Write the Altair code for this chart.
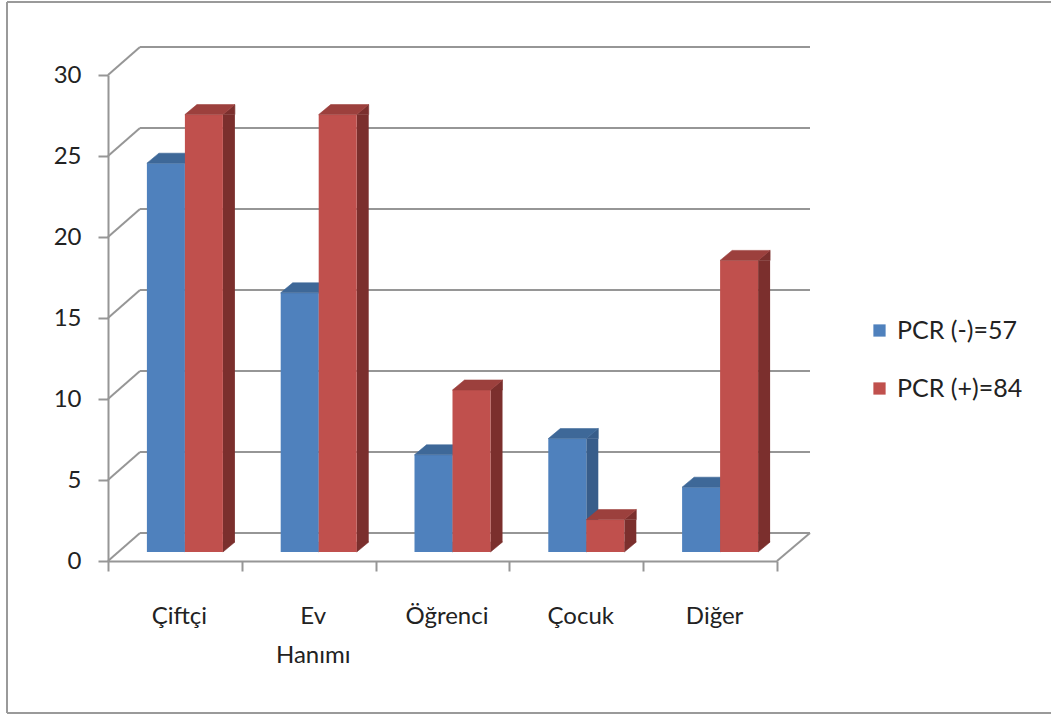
import altair as alt
import pandas as pd

categories = ["Çiftçi", "Ev Hanımı", "Öğrenci", "Çocuk", "Diğer"]
pcr_neg = [24, 16, 6, 7, 4]
pcr_pos = [27, 27, 10, 2, 18]
series = ["PCR (-)=57", "PCR (+)=84"]
y_ticks = [0, 5, 10, 15, 20, 25, 30]

W, H = 669, 486
FONT = "Lato, sans-serif"
GRID = "#969696"
TXT = "#222222"

BLUE, BLUE_TOP, BLUE_SIDE = "#4F81BD", "#3E6898", "#385D8A"
RED, RED_TOP, RED_SIDE = "#C0504D", "#9C403D", "#7B2F2D"

blue_df = pd.DataFrame({"cat": categories, "val": pcr_neg, "series": series[0]})
red_df = pd.DataFrame({"cat": categories, "val": pcr_pos, "series": series[1]})
ticks_df = pd.DataFrame({"val": y_ticks})
one_df = pd.DataFrame({"val": [0]})

x_scale = alt.Scale(type="band", domain=categories, paddingInner=0, paddingOuter=0)
y_scale = alt.Scale(domain=[0, 30], nice=False, zero=True)
color_scale = alt.Scale(domain=series, range=[BLUE, RED])

x_axis = alt.Axis(
    title=None, tickBand="extent", domainColor=GRID, domainWidth=2,
    tickColor=GRID, tickWidth=2, tickSize=10, labelFontSize=24,
    labelFont=FONT, labelColor=TXT, labelPadding=33, labelAngle=0,
    labelExpr="split(datum.label, ' ')", labelLineHeight=39, labelOffset=4)
y_axis = alt.Axis(
    title=None, values=y_ticks, grid=False, domainColor=GRID, domainWidth=2,
    tickColor=GRID, tickWidth=2, tickSize=10, labelFontSize=24,
    labelFont=FONT, labelColor=TXT, labelPadding=17)

X = alt.X("cat:N", scale=x_scale, sort=categories, axis=x_axis)
Y = alt.Y("val:Q", scale=y_scale, axis=y_axis)

# frame around the picture
frame = alt.layer(
    alt.Chart(one_df).mark_rule(color="#9a9a9a", strokeWidth=2).encode(
        x=alt.value(-101), x2=alt.value(943), y=alt.value(-73), y2=alt.value(-73)),
    alt.Chart(one_df).mark_rule(color="#9a9a9a", strokeWidth=2).encode(
        x=alt.value(-101), x2=alt.value(-101), y=alt.value(-73), y2=alt.value(638)),
    alt.Chart(one_df).mark_rule(color="#9a9a9a", strokeWidth=2).encode(
        x=alt.value(-101), x2=alt.value(943), y=alt.value(638), y2=alt.value(638)),
)

# back wall gridlines
grid = alt.Chart(ticks_df).mark_rule(
    color=GRID, strokeWidth=2, xOffset=32, x2Offset=33, yOffset=-28
).encode(y=Y, x=alt.value(0), x2=alt.value(W))

# side wall diagonals
diag = alt.Chart(ticks_df).mark_rule(
    color=GRID, strokeWidth=2, x2Offset=32, y2Offset=-28
).encode(x=alt.value(0), x2=alt.value(0), y=Y, y2="val:Q")

floor_right = alt.Chart(one_df).mark_rule(
    color=GRID, strokeWidth=2, x2Offset=33, y2Offset=-28
).encode(x=alt.value(W), x2=alt.value(W), y=Y, y2="val:Q")


def bar_layers(df, front_off, top_col, side_col):
    lx = front_off - 19  # left edge offset of front face from band centre
    rx = front_off + 19  # right edge offset

    side = alt.Chart(df).mark_bar(
        width=12, xOffset=rx + 6, yOffset=-9, y2Offset=-19, color=side_col
    ).encode(x=X, y=Y, y2=alt.datum(0))

    side_top = alt.Chart(df).mark_point(
        shape=f"M {rx} -9 L {rx+12} -19 L {rx+12} -9 Z", size=4, filled=True,
        opacity=1, color=side_col, strokeWidth=0.6, stroke=side_col
    ).encode(x=X, y=Y)

    side_bottom = alt.Chart(df).mark_point(
        shape=f"M {rx} -19 L {rx+12} -19 L {rx} -9 Z", size=4, filled=True,
        opacity=1, color=side_col, strokeWidth=0.6, stroke=side_col
    ).encode(x=X, y=alt.Y("zero:Q", scale=y_scale, axis=y_axis)).transform_calculate(zero="0")

    front = alt.Chart(df).mark_bar(
        width=38, xOffset=front_off, yOffset=-9, y2Offset=-9
    ).encode(
        x=X, y=Y, y2=alt.datum(0),
        color=alt.Color("series:N", scale=color_scale, legend=alt.Legend(
            title=None, orient="none", legendX=759, legendY=243, direction="vertical",
            symbolType="square", symbolSize=150, symbolStrokeWidth=0,
            labelFontSize=25, labelFont=FONT, labelColor=TXT, labelOffset=5,
            rowPadding=32, padding=0)),
    )

    top = alt.Chart(df).mark_point(
        shape=f"M {lx} -9 L {rx} -9 L {rx+12} -19 L {lx+12} -19 Z", size=4,
        filled=True, opacity=1, color=top_col, strokeWidth=0.6, stroke=top_col
    ).encode(x=X, y=Y)

    return [side, side_top, side_bottom, front, top]


layers = [frame, grid, diag, floor_right]
layers += bar_layers(blue_df, -9, BLUE_TOP, BLUE_SIDE)
layers += bar_layers(red_df, 29, RED_TOP, RED_SIDE)

chart = alt.layer(*layers).properties(
    width=W, height=H,
    padding={"left": 108, "top": 75, "right": 1051 - 108 - W, "bottom": 715 - 75 - H},
    autosize=alt.AutoSizeParams(type="none"),
    background="white",
).configure_view(stroke=None)

chart.save("out.html", embed_options={"renderer": "svg", "actions": False})
